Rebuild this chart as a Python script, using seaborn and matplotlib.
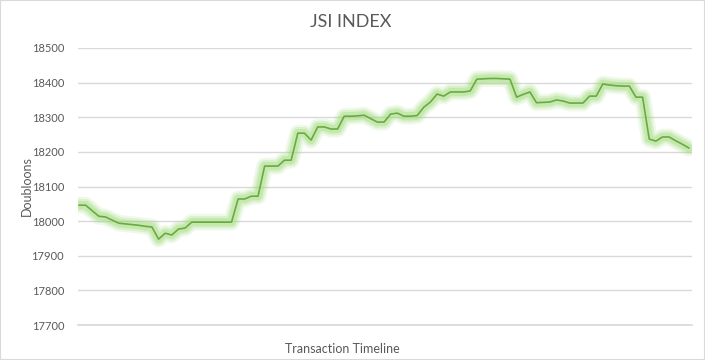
import numpy as np
import pandas as pd
import seaborn as sns
import matplotlib.pyplot as plt
from matplotlib.patches import Rectangle

# JSI index values, one per transaction step
values = [18046, 18046, 18030, 18014, 18012, 18003, 17994, 17992, 17990, 17988,
          17985, 17983, 17948, 17965, 17960, 17977, 17980, 17997, 17997, 17997,
          17997, 17997, 17997, 17997, 18064, 18064, 18072, 18072, 18159, 18159,
          18159, 18176, 18176, 18254, 18254, 18234, 18272, 18272, 18266, 18266,
          18303, 18303, 18304, 18306, 18296, 18286, 18286, 18309, 18312, 18303,
          18303, 18305, 18329, 18344, 18367, 18361, 18373, 18373, 18373, 18376,
          18410, 18411, 18412, 18412, 18411, 18410, 18358, 18366, 18373, 18342,
          18343, 18344, 18350, 18347, 18341, 18341, 18341, 18361, 18361, 18396,
          18393, 18391, 18390, 18390, 18358, 18358, 18237, 18231, 18243, 18243,
          18232, 18222, 18211]
y_ticks = [17700, 17800, 17900, 18000, 18100, 18200, 18300, 18400, 18500]

df = pd.DataFrame({'step': np.arange(len(values)), 'index': values})

sns.set_theme(style='white')
plt.rcParams['font.family'] = ['Lato', 'DejaVu Sans']

fig = plt.figure(figsize=(7.05, 3.6), dpi=100)
ax = fig.add_axes([78 / 705, 1 - 325 / 360, 614 / 705, 277 / 360])

# soft glow under the line
for lw, a in [(12, 0.15), (9, 0.22), (6, 0.32)]:
    sns.lineplot(data=df, x='step', y='index', ax=ax, color='#98d870',
                 linewidth=lw, alpha=a, solid_capstyle='round',
                 solid_joinstyle='round')
sns.lineplot(data=df, x='step', y='index', ax=ax, color='#6aaa42', linewidth=1.2)

ax.set_ylim(17700, 18500)
ax.set_xlim(-0.15, 92.45)
ax.set_yticks(y_ticks)
ax.set_xticks([])
ax.grid(axis='y', color='#d9d9d9', linewidth=1)
ax.tick_params(axis='y', length=0, pad=10, labelsize=8, labelcolor='#595959')
for s in ['top', 'right', 'left']:
    ax.spines[s].set_visible(False)
ax.spines['bottom'].set_color('#d9d9d9')
ax.set_xlabel('')
ax.set_ylabel('Doubloons', fontsize=9, color='#595959')
ax.yaxis.set_label_coords(-0.074, 0.5)

fig.text(351 / 705, 1 - 22 / 360, 'JSI INDEX', ha='center', va='center',
         fontsize=13, color='#595959')
fig.text(342 / 705, 1 - 349 / 360, 'Transaction Timeline', ha='center',
         va='center', fontsize=9, color='#595959')

fig.patches.append(Rectangle((0, 0), 1, 1, transform=fig.transFigure,
                             fill=False, edgecolor='#d9d9d9', linewidth=1.5))

fig.savefig('out.png', dpi=100)
